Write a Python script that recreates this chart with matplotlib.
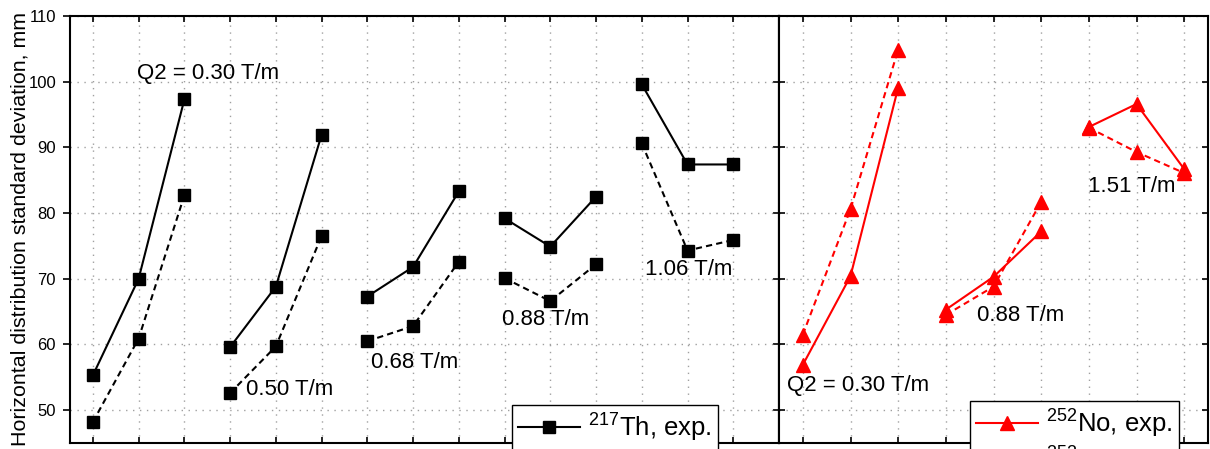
import matplotlib
matplotlib.use("Agg")
import matplotlib.pyplot as plt

plt.rcParams['font.family'] = ['Liberation Sans', 'DejaVu Sans']
plt.rcParams['mathtext.fontset'] = 'custom'
plt.rcParams['mathtext.rm'] = 'Liberation Sans'
plt.rcParams['mathtext.it'] = 'Liberation Sans:italic'
plt.rcParams['mathtext.default'] = 'rm'

# ---- data: 217Th (left panel), three points per Q2 setting ----
th_groups = [[1, 2, 3], [4, 5, 6], [7, 8, 9], [10, 11, 12], [13, 14, 15]]
th_exp = [[55.3, 70.0, 97.3], [59.6, 68.8, 91.9], [67.3, 71.8, 83.3],
          [79.2, 74.9, 82.5], [99.6, 87.4, 87.4]]
th_sim = [[48.2, 60.9, 82.7], [52.6, 59.7, 76.5], [60.5, 62.8, 72.6],
          [70.1, 66.6, 72.2], [90.6, 74.3, 75.9]]
th_labels = ["Q2 = 0.30 T/m", "0.50 T/m", "0.68 T/m", "0.88 T/m", "1.06 T/m"]
th_label_xy = [(1.96, 101.3), (4.34, 53.1), (7.08, 57.2), (9.94, 63.8), (13.08, 71.4)]

# ---- data: 252No (right panel) ----
no_groups = [[1, 2, 3], [4, 5, 6], [7, 8, 9]]
no_exp = [[56.9, 70.4, 99.1], [65.3, 70.3, 77.2], [93.1, 96.6, 86.7]]
no_sim = [[61.5, 80.6, 104.9], [64.5, 68.8, 81.7], [93.0, 89.3, 86.1]]
no_labels = ["Q2 = 0.30 T/m", "0.88 T/m", "1.51 T/m"]
no_label_xy = [(0.66, 53.7), (4.65, 64.4), (6.99, 84.0)]

yticks = [50, 60, 70, 80, 90, 100, 110]

W, H = 1210, 449
fig = plt.figure(figsize=(W / 100, H / 100), dpi=100)
top = 1 - 16 / H
bot = 1 - 443 / H
axL = fig.add_axes([70 / W, bot, (779 - 70) / W, top - bot])
axR = fig.add_axes([779 / W, bot, (1208 - 779) / W, top - bot])

for ax, xt in ((axL, range(1, 16)), (axR, range(1, 10))):
    ax.set_ylim(45, 110)
    ax.set_yticks(yticks)
    ax.set_xticks(list(xt))
    ax.grid(True, color='#a0a0a0', linestyle=(0, (1, 4)), linewidth=1.0)
    ax.set_axisbelow(True)
    ax.tick_params(direction='in', length=4.5, width=1.2, top=True, right=True,
                   labelbottom=False, labelsize=12, pad=6, colors='black')
    for s in ax.spines.values():
        s.set_linewidth(1.5)
axL.set_xlim(0.5, 16.0)
axR.set_xlim(0.5, 9.5)
axR.tick_params(labelleft=False)

# left axis: outward ticks on the left side, inward ticks on the right side
axL.tick_params(axis='y', direction='out', length=5, right=False, pad=5)
sec = axL.secondary_yaxis('right')
sec.set_yticks(yticks)
sec.tick_params(direction='in', length=4.5, width=1.2, labelright=False)
sec.spines['right'].set_linewidth(1.5)

lw = 1.5
for i, (xs, e, s) in enumerate(zip(th_groups, th_exp, th_sim)):
    axL.plot(xs, e, '-', color='black', lw=lw, marker='s', ms=8.8,
             label='$^{217}$Th, exp.' if i == 0 else None)
    axL.plot(xs, s, '--', color='black', lw=lw, dashes=(3, 2), marker='s', ms=8.8,
             label='$^{217}$Th, sim.' if i == 0 else None)
for (x, y), t in zip(th_label_xy, th_labels):
    axL.text(x, y, t, ha='left', va='center', fontsize=16)

for i, (xs, e, s) in enumerate(zip(no_groups, no_exp, no_sim)):
    axR.plot(xs, e, '-', color='#ff0000', lw=lw, marker='^', ms=10,
             label='$^{252}$No, exp.' if i == 0 else None)
    axR.plot(xs, s, '--', color='#ff0000', lw=lw, dashes=(3, 2), marker='^', ms=10,
             label='$^{252}$No, sim.' if i == 0 else None)
for (x, y), t in zip(no_label_xy, no_labels):
    axR.text(x, y, t, ha='left', va='center', fontsize=16)

legkw = dict(loc='upper left', bbox_transform=fig.transFigure, borderaxespad=0,
             fontsize=18.5, frameon=True, fancybox=False, framealpha=1,
             edgecolor='black', handlelength=2.4, handletextpad=0.3,
             borderpad=0.25, labelspacing=0.2)
lgL = axL.legend(bbox_to_anchor=(512 / W, 1 - 405 / H), **legkw)
lgR = axR.legend(bbox_to_anchor=(970 / W, 1 - 401 / H), **legkw)
for lg in (lgL, lgR):
    lg.get_frame().set_linewidth(1.0)

fig.text(26 / W, 1 - 446 / H, "Horizontal distribution standard deviation, mm",
         rotation=90, rotation_mode='anchor', ha='left', va='baseline', fontsize=15.4)

fig.savefig("out.png", dpi=100)
